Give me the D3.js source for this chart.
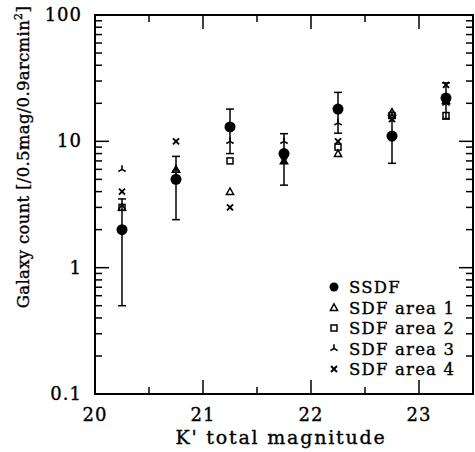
<!DOCTYPE html>
<html>
<head>
<meta charset="utf-8">
<script src="https://cdn.jsdelivr.net/npm/d3@7"></script>
<style>
  body { margin: 0; background: #fff; }
  text { font-family: "DejaVu Serif", "Liberation Serif", serif; fill: #000; stroke: #000; stroke-width: 0.35; }
</style>
</head>
<body>
<svg width="475" height="452"></svg>
<script>
// Data
let magnitudes = [20.25, 20.75, 21.25, 21.75, 22.25, 22.75, 23.25];
let ssdf = [2, 5, 13, 8, 18, 11, 22];
let ssdfErr = [1.5, 2.6, 5, 3.5, 6.4, 4.3, 7];
let area1 = [3, 6, 4, 7, 8, 17, 21];
let area2 = [3, 5, 7, 8, 9, 16, 16];
let area3 = [6, 6, 10, 10, 14, 16, 20];
let area4 = [4, 10, 3, 7, 10, 15, 28];
let xTicks = [20, 21, 22, 23];
let yTicks = [0.1, 1, 10, 100];
let legendLabels = ["SSDF", "SDF area 1", "SDF area 2", "SDF area 3", "SDF area 4"];

let svg = d3.select("svg");
let margin = { left: 95, right: 2, top: 15, bottom: 58 };
let width = +svg.attr("width");
let height = +svg.attr("height");

let x = d3.scaleLinear().domain([20, 23.5]).range([margin.left, width - margin.right]);
let y = d3.scaleLog().domain([0.1, 100]).range([height - margin.bottom, margin.top]);

let x0 = x.range()[0], x1 = x.range()[1];
let y0 = y.range()[0], y1 = y.range()[1];

// Ticks on all four sides, pointing inward
let ticks = svg.append("g").attr("stroke", "#000").attr("stroke-width", 1.5);
d3.range(20, 23.51, 0.5).forEach(v => {
    let len = Math.abs(v - Math.round(v)) < 0.01 ? 14 : 7;
    ticks.append("line").attr("x1", x(v)).attr("x2", x(v)).attr("y1", y0).attr("y2", y0 - len);
    ticks.append("line").attr("x1", x(v)).attr("x2", x(v)).attr("y1", y1).attr("y2", y1 + len);
});
let yMinor = [];
[0.1, 1, 10].forEach(d => {
    for (let k = 1; k <= 9; k++) yMinor.push(d * k);
});
yMinor.push(100);
yMinor.forEach(v => {
    let major = yTicks.some(t => Math.abs(t - v) < 1e-9);
    let len = major ? 14 : 7;
    ticks.append("line").attr("x1", x0).attr("x2", x0 + len).attr("y1", y(v)).attr("y2", y(v));
    ticks.append("line").attr("x1", x1).attr("x2", x1 - len).attr("y1", y(v)).attr("y2", y(v));
});

// Frame
svg.append("rect")
    .attr("x", x0).attr("y", y1)
    .attr("width", x1 - x0).attr("height", y0 - y1)
    .attr("fill", "none").attr("stroke", "#000").attr("stroke-width", 2);

// Tick labels
svg.append("g").selectAll("text").data(xTicks).join("text")
    .attr("x", d => x(d)).attr("y", y0 + 27)
    .attr("text-anchor", "middle").attr("font-size", 18)
    .attr("letter-spacing", 1)
    .text(d => d);
svg.append("g").selectAll("text").data(yTicks).join("text")
    .attr("x", x0 - 13).attr("y", d => y(d) + 6)
    .attr("text-anchor", "end").attr("font-size", 18)
    .attr("letter-spacing", 1)
    .text(d => d);

// Axis titles
svg.append("text")
    .attr("x", (x0 + x1) / 2 - 3).attr("y", y0 + 50)
    .attr("text-anchor", "middle").attr("font-size", 19)
    .attr("letter-spacing", 1.8)
    .text("K' total magnitude");
let ylab = svg.append("text")
    .attr("transform", "translate(29,157) rotate(-90)")
    .attr("text-anchor", "middle").attr("font-size", 16.5)
    .attr("letter-spacing", 0.3);
ylab.append("tspan").text("Galaxy count [/0.5mag/0.9arcmin");
ylab.append("tspan").attr("font-size", 11).attr("dy", -7).text("2");
ylab.append("tspan").attr("dy", 7).text("]");

// Symbol drawers
function drawCircle(g, cx, cy) {
    g.append("circle").attr("cx", cx).attr("cy", cy).attr("r", 5.5).attr("fill", "#000");
}
function drawTriangle(g, cx, cy) {
    let s = 3.6;
    g.append("path")
        .attr("d", `M${cx},${cy - s}L${cx + s},${cy + s * 0.8}L${cx - s},${cy + s * 0.8}Z`)
        .attr("fill", "none").attr("stroke", "#000").attr("stroke-width", 1.5);
}
function drawSquare(g, cx, cy) {
    g.append("rect").attr("x", cx - 3).attr("y", cy - 3).attr("width", 6).attr("height", 6)
        .attr("fill", "none").attr("stroke", "#000").attr("stroke-width", 1.5);
}
function drawTri3(g, cx, cy) {
    let s = 4.2;
    g.append("path")
        .attr("d", `M${cx},${cy}L${cx},${cy - s}M${cx},${cy}L${cx - s * 0.87},${cy + s * 0.5}M${cx},${cy}L${cx + s * 0.87},${cy + s * 0.5}`)
        .attr("fill", "none").attr("stroke", "#000").attr("stroke-width", 1.6);
}
function drawCross(g, cx, cy) {
    let s = 3;
    g.append("path")
        .attr("d", `M${cx - s},${cy - s}L${cx + s},${cy + s}M${cx - s},${cy + s}L${cx + s},${cy - s}`)
        .attr("fill", "none").attr("stroke", "#000").attr("stroke-width", 2);
}

let series = [
    { values: area1, draw: drawTriangle },
    { values: area2, draw: drawSquare },
    { values: area3, draw: drawTri3 },
    { values: area4, draw: drawCross }
];

let points = svg.append("g");
series.forEach(s => {
    s.values.forEach((v, i) => s.draw(points, x(magnitudes[i]), y(v)));
});

// SSDF with error bars
let errs = points.append("g").attr("stroke", "#000").attr("stroke-width", 1.5);
ssdf.forEach((v, i) => {
    let cx = x(magnitudes[i]);
    let lo = y(v - ssdfErr[i]), hi = y(v + ssdfErr[i]);
    errs.append("line").attr("x1", cx).attr("x2", cx).attr("y1", lo).attr("y2", hi);
    errs.append("line").attr("x1", cx - 4).attr("x2", cx + 4).attr("y1", lo).attr("y2", lo);
    errs.append("line").attr("x1", cx - 4).attr("x2", cx + 4).attr("y1", hi).attr("y2", hi);
    drawCircle(points, cx, y(v));
});

// Legend
let legend = svg.append("g");
let drawers = [drawCircle, drawTriangle, drawSquare, drawTri3, drawCross];
legendLabels.forEach((label, i) => {
    let ly = 287 + i * 20.5;
    if (i == 0) {
        legend.append("circle").attr("cx", 334).attr("cy", ly).attr("r", 4.5).attr("fill", "#000");
    } else {
        drawers[i](legend, 334, ly);
    }
    legend.append("text").attr("x", 349).attr("y", ly + 6).attr("font-size", 16.5)
        .attr("letter-spacing", 1.2).text(label);
});
</script>
</body>
</html>
